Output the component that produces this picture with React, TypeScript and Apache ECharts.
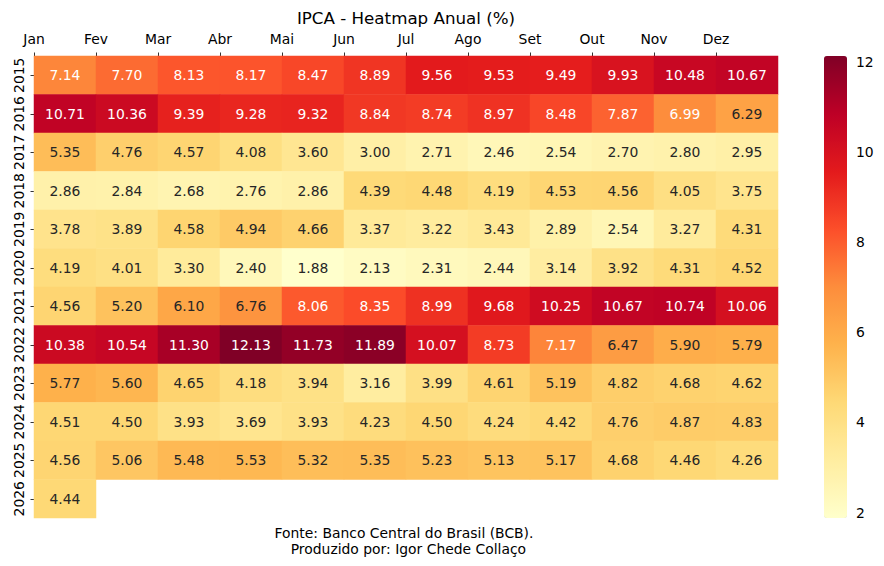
import React, { useEffect, useRef } from "react";
import * as echarts from "echarts";

const months = ["Jan", "Fev", "Mar", "Abr", "Mai", "Jun", "Jul", "Ago", "Set", "Out", "Nov", "Dez"];
const years = ["2015", "2016", "2017", "2018", "2019", "2020", "2021", "2022", "2023", "2024", "2025", "2026"];

const v2015 = [7.14, 7.7, 8.13, 8.17, 8.47, 8.89, 9.56, 9.53, 9.49, 9.93, 10.48, 10.67];
const v2016 = [10.71, 10.36, 9.39, 9.28, 9.32, 8.84, 8.74, 8.97, 8.48, 7.87, 6.99, 6.29];
const v2017 = [5.35, 4.76, 4.57, 4.08, 3.6, 3.0, 2.71, 2.46, 2.54, 2.7, 2.8, 2.95];
const v2018 = [2.86, 2.84, 2.68, 2.76, 2.86, 4.39, 4.48, 4.19, 4.53, 4.56, 4.05, 3.75];
const v2019 = [3.78, 3.89, 4.58, 4.94, 4.66, 3.37, 3.22, 3.43, 2.89, 2.54, 3.27, 4.31];
const v2020 = [4.19, 4.01, 3.3, 2.4, 1.88, 2.13, 2.31, 2.44, 3.14, 3.92, 4.31, 4.52];
const v2021 = [4.56, 5.2, 6.1, 6.76, 8.06, 8.35, 8.99, 9.68, 10.25, 10.67, 10.74, 10.06];
const v2022 = [10.38, 10.54, 11.3, 12.13, 11.73, 11.89, 10.07, 8.73, 7.17, 6.47, 5.9, 5.79];
const v2023 = [5.77, 5.6, 4.65, 4.18, 3.94, 3.16, 3.99, 4.61, 5.19, 4.82, 4.68, 4.62];
const v2024 = [4.51, 4.5, 3.93, 3.69, 3.93, 4.23, 4.5, 4.24, 4.42, 4.76, 4.87, 4.83];
const v2025 = [4.56, 5.06, 5.48, 5.53, 5.32, 5.35, 5.23, 5.13, 5.17, 4.68, 4.46, 4.26];
const v2026 = [4.44];

const rows = [v2015, v2016, v2017, v2018, v2019, v2020, v2021, v2022, v2023, v2024, v2025, v2026];

const monthTickValues = [0, 1, 2, 3, 4, 5, 6, 7, 8, 9, 10, 11];
const colorbarTicks = [2, 4, 6, 8, 10, 12];

const ylOrRd = ["#ffffcc", "#ffeda0", "#fed976", "#feb24c", "#fd8d3c", "#fc4e2a", "#e31a1c", "#bd0026", "#800026"];

const FONT = "DejaVu Sans";

function hexToRgb(h: string) {
  return [parseInt(h.slice(1, 3), 16), parseInt(h.slice(3, 5), 16), parseInt(h.slice(5, 7), 16)];
}

function textColorFor(v: number, vmin: number, vmax: number) {
  const t = Math.min(1, Math.max(0, (v - vmin) / (vmax - vmin)));
  const pos = t * (ylOrRd.length - 1);
  const i = Math.min(ylOrRd.length - 2, Math.floor(pos));
  const f = pos - i;
  const a = hexToRgb(ylOrRd[i]);
  const b = hexToRgb(ylOrRd[i + 1]);
  const rgb = a.map((c, k) => (c + (b[k] - c) * f) / 255);
  const lin = rgb.map((c) => (c <= 0.03928 ? c / 12.92 : Math.pow((c + 0.055) / 1.055, 2.4)));
  const lum = 0.2126 * lin[0] + 0.7152 * lin[1] + 0.0722 * lin[2];
  return lum > 0.408 ? "#262626" : "#ffffff";
}

export default function App() {
  const ref = useRef<HTMLDivElement>(null);

  useEffect(() => {
    document.body.style.margin = "0";
    if (!ref.current) return;
    const chart = echarts.init(ref.current, null, { renderer: "svg" });

    const all = rows.flat();
    const vmin = Math.min(...all);
    const vmax = Math.max(...all);

    const data: any[] = [];
    rows.forEach((r, yi) => {
      r.forEach((v, xi) => {
        data.push({
          value: [xi, yi, v],
          label: { color: textColorFor(v, vmin, vmax) },
        });
      });
    });

    const tickStyle = { color: "#000", width: 0.8 };
    const labelStyle = { fontFamily: FONT, fontSize: 13.9, color: "#000" };

    chart.setOption({
      animation: false,
      backgroundColor: "#ffffff",
      textStyle: { fontFamily: FONT },
      title: {
        text: "IPCA - Heatmap Anual (%)",
        left: 406,
        textAlign: "center",
        top: 9,
        padding: 0,
        textStyle: { fontFamily: FONT, fontSize: 16.7, fontWeight: "normal", color: "#000" },
      },
      grid: [
        { left: 34, top: 56, width: 744, height: 462 },
        { left: 824, top: 56, width: 23, height: 462 },
      ],
      xAxis: [
        {
          type: "category",
          gridIndex: 0,
          data: months,
          position: "bottom",
          axisLine: { show: false },
          axisTick: { show: false },
          axisLabel: { show: false },
          splitLine: { show: false },
        },
        {
          type: "value",
          gridIndex: 0,
          min: 0,
          max: 12,
          position: "top",
          axisLine: { show: false },
          axisTick: { show: true, length: 3.5, lineStyle: tickStyle, customValues: monthTickValues },
          axisLabel: {
            ...labelStyle,
            margin: 10.5,
            customValues: monthTickValues,
            formatter: (v: number) => months[Math.round(v)] ?? "",
          },
          splitLine: { show: false },
        },
        {
          type: "value",
          gridIndex: 1,
          show: false,
          min: 0,
          max: 1,
        },
      ],
      yAxis: [
        {
          type: "category",
          gridIndex: 0,
          data: years,
          inverse: true,
          axisLine: { show: false },
          axisTick: { show: true, alignWithLabel: true, interval: 0, length: 3.5, lineStyle: tickStyle },
          axisLabel: { ...labelStyle, rotate: 90, margin: 8.5, interval: 0 },
          splitLine: { show: false },
        },
        {
          type: "value",
          gridIndex: 1,
          min: vmin,
          max: vmax,
          position: "right",
          axisLine: { show: false },
          axisTick: { show: true, length: 3.5, lineStyle: tickStyle, customValues: colorbarTicks },
          axisLabel: { ...labelStyle, margin: 9, customValues: colorbarTicks },
          splitLine: { show: false },
        },
      ],
      visualMap: {
        type: "continuous",
        min: vmin,
        max: vmax,
        seriesIndex: 0,
        left: 824,
        top: 56,
        itemWidth: 23,
        itemHeight: 462,
        padding: 0,
        text: ["", ""],
        showLabel: false,
        calculable: false,
        hoverLink: false,
        inRange: { color: ylOrRd },
      },
      series: [
        {
          type: "heatmap",
          xAxisIndex: 0,
          yAxisIndex: 0,
          data,
          label: {
            show: true,
            fontFamily: FONT,
            fontSize: 13.9,
            formatter: (p: any) => p.value[2].toFixed(2),
          },
          itemStyle: { borderWidth: 0 },
          emphasis: { disabled: true },
        },
      ],
      graphic: [
        {
          type: "text",
          x: 404,
          y: 525,
          style: {
            text: "Fonte: Banco Central do Brasil (BCB).\n  Produzido por: Igor Chede Collaço",
            fontFamily: FONT,
            fontSize: 13.9,
            fill: "#000",
            lineHeight: 16,
            align: "center",
            verticalAlign: "top",
          },
        },
      ],
    });

    return () => chart.dispose();
  }, []);

  return <div ref={ref} style={{ width: 884, height: 566 }} />;
}
